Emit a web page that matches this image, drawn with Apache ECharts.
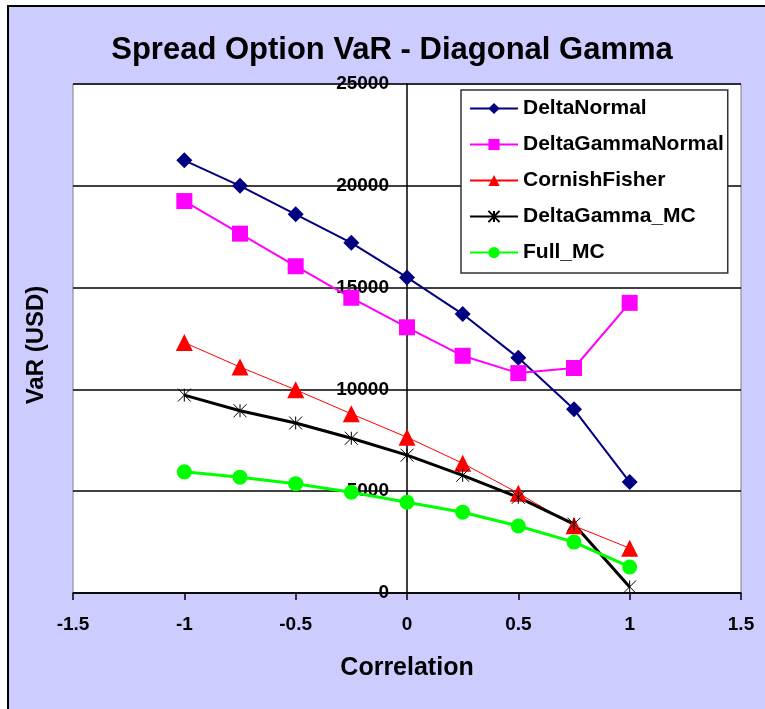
<!DOCTYPE html>
<html>
  <head>
    <meta charset="utf-8">
    <script src="https://cdn.jsdelivr.net/npm/echarts@6/dist/echarts.min.js"></script>
    <style>
      html, body { margin: 0; padding: 0; background: #fff; }
      #main { width: 765px; height: 709px; }
    </style>
  </head>
  <body>
    <div id="main"></div>
    <script type="text/javascript">
      // correlation on the x axis
      var correlation = [-1, -0.75, -0.5, -0.25, 0, 0.25, 0.5, 0.75, 1];
      // VaR (USD) per method
      var deltaNormal      = [21250, 20000, 18600, 17200, 15500, 13700, 11550, 9020, 5450];
      var deltaGammaNormal = [19250, 17650, 16050, 14500, 13050, 11650, 10800, 11050, 14250];
      var cornishFisher    = [12300, 11100, 9980, 8800, 7650, 6370, 4900, 3300, 2200];
      var deltaGammaMC     = [9720, 8950, 8350, 7600, 6770, 5780, 4700, 3380, 300];
      var fullMC           = [5950, 5690, 5370, 4950, 4460, 3970, 3290, 2500, 1280];
      var seriesNames = ['DeltaNormal', 'DeltaGammaNormal', 'CornishFisher', 'DeltaGamma_MC', 'Full_MC'];

      function pairs(ys){
        var out = [];
        for (var i = 0; i < correlation.length; i++) {
          out.push([correlation[i], ys[i]]);
        }
        return out;
      }

      var font = 'Liberation Sans, Arial, sans-serif';
      var star = 'path://M0,-1L0,1M-1,-1L1,1M-1,1L1,-1';
      var plotLeft = 73, plotRight = 24;
      var plotWidth = 765 - plotLeft - plotRight;

      var myChart = echarts.init(document.getElementById('main'));
      myChart.setOption({
        backgroundColor: '#ffffff',
        animation: false,
        graphic: [
          {
            type: 'rect', z: -10, silent: true,
            shape: { x: 8, y: 6, width: 900, height: 900 },
            style: { fill: '#CCCCFF', stroke: '#000', lineWidth: 2 }
          },
          {
            type: 'text', x: 36, y: 345, rotation: Math.PI / 2,
            style: {
              text: 'VaR (USD)', fill: '#000', align: 'center', verticalAlign: 'middle',
              font: 'bold 24px ' + font
            }
          }
        ],
        title: {
          text: 'Spread Option VaR - Diagonal Gamma',
          left: 387, top: 30, textAlign: 'center',
          textStyle: { fontFamily: font, fontWeight: 'bold', fontSize: 31, color: '#000' }
        },
        grid: {
          left: plotLeft, right: plotRight, top: 84, bottom: 116,
          show: true, backgroundColor: '#ffffff', borderColor: '#808080', borderWidth: 1
        },
        legend: {
          orient: 'vertical', left: 461, top: 90,
          padding: [8, 4, 10, 8], itemGap: 15, itemWidth: 48, itemHeight: 14,
          backgroundColor: '#ffffff', borderColor: '#333', borderWidth: 1.5, borderRadius: 0,
          textStyle: { fontFamily: font, fontWeight: 'bold', fontSize: 21, color: '#000' },
          data: seriesNames
        },
        xAxis: {
          type: 'value', min: -1.5, max: 1.5, interval: 0.5,
          name: 'Correlation', nameLocation: 'middle', nameGap: 63,
          nameTextStyle: { fontFamily: font, fontWeight: 'bold', fontSize: 25, color: '#000' },
          axisLine: { lineStyle: { color: '#000', width: 1.5 } },
          axisTick: { show: true, length: 7, lineStyle: { color: '#000', width: 1.5 } },
          axisLabel: {
            margin: 22, color: '#000', fontFamily: font, fontWeight: 'bold', fontSize: 19,
            formatter: function (v) { return String(v); }
          },
          splitLine: { show: false }
        },
        yAxis: {
          type: 'value', min: 0, max: 25000, interval: 5000,
          position: 'left', offset: -plotWidth / 2,
          axisLine: { show: true, onZero: false, lineStyle: { color: '#000', width: 1.5 } },
          axisTick: { show: false },
          axisLabel: {
            margin: 18, color: '#000', fontFamily: font, fontWeight: 'bold', fontSize: 19,
            formatter: function (v) { return String(v); }
          },
          splitLine: { show: true, lineStyle: { color: '#000', width: 1.5 } }
        },
        series: [
          {
            name: seriesNames[0], type: 'line', data: pairs(deltaNormal),
            symbol: 'diamond', symbolSize: 16,
            lineStyle: { color: '#000080', width: 2 },
            itemStyle: { color: '#000080' }
          },
          {
            name: seriesNames[1], type: 'line', data: pairs(deltaGammaNormal),
            symbol: 'rect', symbolSize: 16,
            lineStyle: { color: '#FF00FF', width: 2 },
            itemStyle: { color: '#FF00FF' }
          },
          {
            name: seriesNames[2], type: 'line', data: pairs(cornishFisher),
            symbol: 'triangle', symbolSize: 17,
            lineStyle: { color: '#FF0000', width: 1 },
            itemStyle: { color: '#FF0000' }
          },
          {
            name: seriesNames[3], type: 'line', data: pairs(deltaGammaMC),
            symbol: star, symbolSize: 13,
            lineStyle: { color: '#000000', width: 3 },
            itemStyle: { color: '#000000', borderColor: '#000000', borderWidth: 1 }
          },
          {
            name: seriesNames[4], type: 'line', data: pairs(fullMC),
            symbol: 'circle', symbolSize: 15,
            lineStyle: { color: '#00FF00', width: 3 },
            itemStyle: { color: '#00FF00' }
          }
        ]
      });
    </script>
  </body>
</html>
